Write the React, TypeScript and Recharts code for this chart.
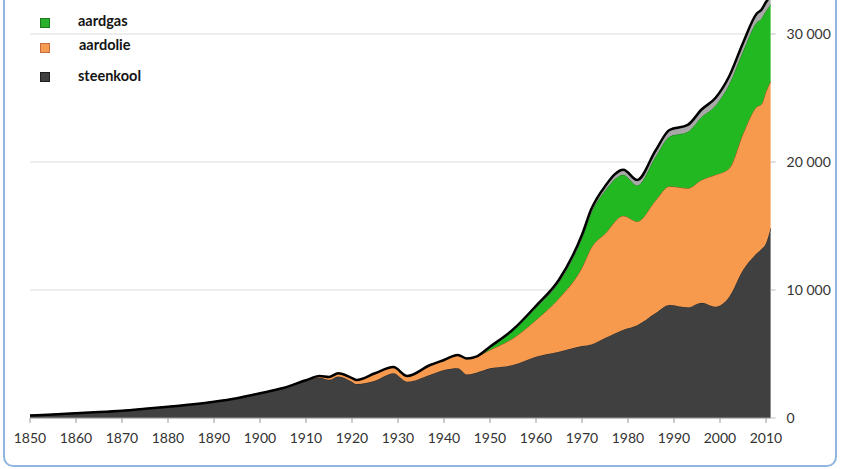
import React from "react";
import { AreaChart, Area, XAxis, YAxis, CartesianGrid } from "recharts";

// values (stacked layers, same length as years)
const years = [
  1850, 1855, 1860, 1865, 1870, 1875, 1880, 1885, 1890, 1895, 1900, 1905, 1910,
  1913, 1915, 1917, 1920, 1921, 1925, 1929, 1932, 1937, 1940, 1943, 1945, 1947,
  1950, 1955, 1960, 1965, 1970, 1972, 1975, 1979, 1982, 1986, 1989, 1993, 1996,
  1999, 2002, 2005, 2008, 2009, 2010, 2011,
];
const steenkool = [
  200, 280, 370, 460, 570, 720, 880, 1050, 1270, 1550, 1930, 2340, 2950,
  3150, 2980, 3250, 2840, 2650, 2910, 3490, 2840, 3380, 3750, 3880, 3400, 3540,
  3880, 4140, 4790, 5180, 5620, 5750, 6250, 6900, 7250, 8200, 8830, 8650, 9010,
  8700, 9480, 11560, 12870, 13200, 13650, 14820,
];
const aardolie = [
  0, 0, 0, 0, 0, 0, 0, 0, 0, 0, 0, 0, 0,
  130, 220, 240, 280, 320, 590, 490, 440, 760, 780, 1040, 1250, 1250,
  1430, 2090, 2870, 4170, 6130, 7550, 8150, 8900, 8100, 8800, 9270, 9300, 9590,
  10300, 10020, 10640, 11450, 11300, 11850, 11480,
];
const aardgas = [
  0, 0, 0, 0, 0, 0, 0, 0, 0, 0, 0, 0, 0,
  0, 0, 0, 0, 0, 0, 0, 0, 0, 0, 0, 0, 0,
  260, 600, 950, 1250, 2300, 2700, 3350, 3200, 2820, 3420, 3880, 4410, 4920,
  5400, 6580, 6450, 6600, 6720, 6300, 6000,
];
const overig = [
  0, 0, 0, 0, 0, 0, 0, 0, 0, 0, 0, 0, 0,
  0, 0, 0, 0, 0, 0, 0, 0, 0, 0, 0, 0, 0,
  0, 80, 150, 200, 260, 300, 350, 400, 430, 480, 520, 540, 580,
  600, 620, 650, 680, 680, 700, 700,
];

const xTicks = [1850, 1860, 1870, 1880, 1890, 1900, 1910, 1920, 1930, 1940, 1950, 1960, 1970, 1980, 1990, 2000, 2010];
const yTicks = [0, 10000, 20000, 30000];

const legendItems = [
  { label: "aardgas", color: "#2bb02b", border: "#1c7a1c", top: 17.5, textTop: 11.5, textLeft: 78 },
  { label: "aardolie", color: "#f59b52", border: "#c4703a", top: 43, textTop: 36, textLeft: 79 },
  { label: "steenkool", color: "#404040", border: "#1e1e1e", top: 72, textTop: 66.5, textLeft: 78 },
];

const rows = years.map((year, i) => ({
  year,
  steenkool: steenkool[i],
  aardolie: aardolie[i],
  aardgas: aardgas[i],
  overig: overig[i],
}));

const TICK_STYLE = { fill: "#333", fontSize: 14, fontFamily: "Lato, sans-serif" };

const fmt = (v: number) => (v === 0 ? "0" : `${Math.floor(v / 1000)} ${String(v % 1000).padStart(3, "0")}`);

export default function App() {
  return (
    <div
      style={{
        position: "fixed",
        left: 0,
        top: 0,
        width: 844,
        height: 469,
        overflow: "hidden",
        background: "#fff",
        fontFamily: "Lato, sans-serif",
      }}
    >
      <div
        style={{
          position: "absolute",
          left: 3,
          top: -20,
          width: 830,
          height: 483,
          border: "2px solid #92b5e0",
          borderRadius: 10,
        }}
      />
      <div style={{ position: "absolute", left: 0, top: -40 }}>
        <AreaChart width={844} height={498} data={rows} margin={{ top: 10, right: 13.4, left: 30, bottom: 0 }}>
          <CartesianGrid vertical={false} stroke="#dcdcdc" />
          <XAxis
            dataKey="year"
            type="number"
            domain={[1850, 2011]}
            ticks={xTicks}
            height={40}
            axisLine={{ stroke: "#9a9a9a" }}
            tickLine={{ stroke: "#9a9a9a" }}
            tickSize={5}
            tickMargin={10}
            tick={TICK_STYLE}
          />
          <YAxis
            orientation="right"
            domain={[0, 35000]}
            ticks={yTicks}
            width={60}
            axisLine={false}
            tickLine={{ stroke: "#bdbdbd" }}
            tickSize={5}
            tickMargin={11}
            tick={TICK_STYLE}
            tickFormatter={fmt}
          />
          <Area type="monotone" dataKey="steenkool" stackId="1" fill="#404040" fillOpacity={1} stroke="#262626" strokeWidth={1} isAnimationActive={false} />
          <Area type="monotone" dataKey="aardolie" stackId="1" fill="#f79a4e" fillOpacity={1} stroke="#9a5020" strokeWidth={1} isAnimationActive={false} />
          <Area type="monotone" dataKey="aardgas" stackId="1" fill="#22b822" fillOpacity={1} stroke="#1a7a1a" strokeWidth={1} isAnimationActive={false} />
          <Area type="monotone" dataKey="overig" stackId="1" fill="#a8a8a8" fillOpacity={1} stroke="#000" strokeWidth={2.5} isAnimationActive={false} />
        </AreaChart>
      </div>
      {legendItems.map((item) => (
        <React.Fragment key={item.label}>
          <div
            style={{
              position: "absolute",
              left: 40,
              top: item.top,
              width: 8,
              height: 8,
              background: item.color,
              border: `1px solid ${item.border}`,
            }}
          />
          <div
            style={{
              position: "absolute",
              left: item.textLeft,
              top: item.textTop,
              lineHeight: "18px",
              fontSize: 14.5,
              fontWeight: 700,
              color: "#141414",
            }}
          >
            {item.label}
          </div>
        </React.Fragment>
      ))}
    </div>
  );
}
